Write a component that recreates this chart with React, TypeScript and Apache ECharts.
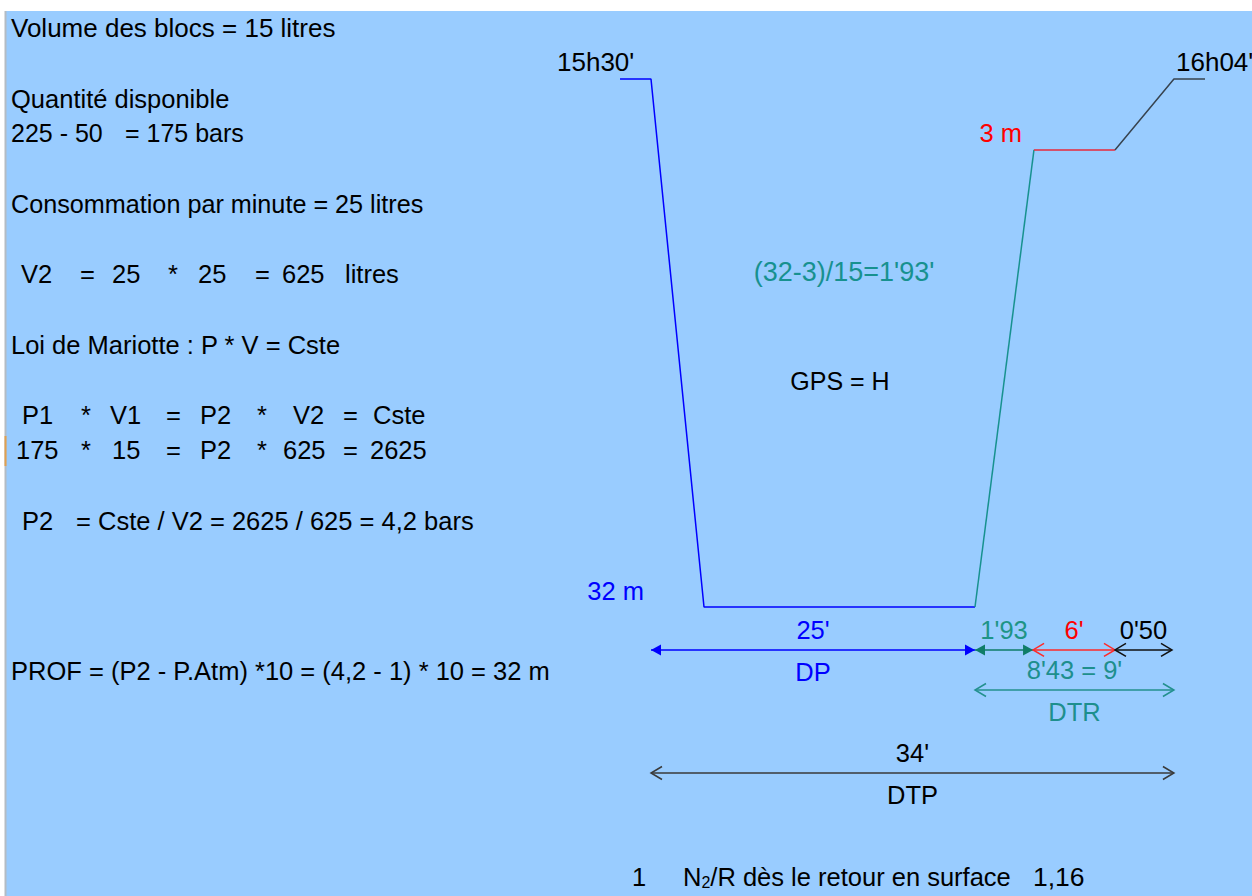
import React, { useEffect, useRef } from "react";
import * as echarts from "echarts";

// Dive profile (schematic minutes from start of descent, depth in metres as drawn)
const profileTime = [-2.39, 0, 4.09, 25, 29.55, 35.8, 40.35, 42.75];
const profileDepth = [0, 0, 32, 32, 4.3, 4.3, 0, 0];

// Duration arrows
const arrowFrom = [0, 25, 29.48, 35.8, 25, 0];
const arrowTo = [25, 29.48, 35.8, 40.2, 40.35, 40.35];
const arrowLevel = [34.6, 34.6, 34.6, 34.6, 37.03, 42.06];
const arrowTopLabels = ["25'", "1'93", "6'", "0'50", "8'43 = 9'", "34'"];
const arrowBottomLabels = ["DP", "", "", "", "DTR", "DTP"];
const arrowFilled = [true, true, false, false, false, false];

// Texts
const leftLines = [
  "Volume des blocs = 15 litres",
  "Quantité disponible",
  "Consommation par minute = 25 litres",
  "Loi de Mariotte : P * V = Cste",
  "PROF = (P2 - P.Atm) *10 = (4,2 - 1) * 10 = 32 m",
];
const rowQty = ["225 - 50", "= 175 bars"];
const rowV2 = ["V2", "=", "25", "*", "25", "=", "625", "litres"];
const rowP1 = ["P1", "*", "V1", "=", "P2", "*", "V2", "=", "Cste"];
const rowNum = ["175", "*", "15", "=", "P2", "*", "625", "=", "2625"];
const rowP2 = ["P2", "= Cste / V2 = 2625 / 625 = 4,2 bars"];
const timeLabels = ["15h30'", "16h04'"];
const depthLabels = ["32 m", "3 m"];
const ascentFormula = "(32-3)/15=1'93'";
const gpsLabel = "GPS = H";
const bottomLine = ["1", "N", "2", "/R dès le retour en surface", "1,16"];

const FONT = "Liberation Sans, Arial, sans-serif";
const FS = 25.5;

const BLUE = "#0000FF";
const TEAL = "#17918F";
const RED = "#FF0000";
const DARK = "#37434F";

const arrowColors = [BLUE, "#0F7D68", "#FF2A2A", "#111111", "#23908E", "#3A3A3A"];
const arrowTextColors = [BLUE, "#1E9486", RED, "#000000", "#1E8F8D", "#000000"];

function txt(text: string, x: number, y: number, fill = "#000", align = "left", fs = FS) {
  return {
    type: "text",
    x,
    y,
    z: 10,
    style: {
      text,
      fill,
      fontSize: fs,
      fontFamily: FONT,
      align,
      verticalAlign: "middle",
      textAlign: align,
      textVerticalAlign: "middle",
    },
  };
}

export default function App() {
  const ref = useRef<HTMLDivElement>(null);

  useEffect(() => {
    if (!ref.current) return;
    const chart = echarts.init(ref.current, undefined, { renderer: "svg" });

    const seg = (a: number, b: number) => {
      const d: number[][] = [];
      for (let i = a; i <= b; i++) d.push([profileTime[i], profileDepth[i]]);
      return d;
    };

    const lineSeries = (data: number[][], color: string) => ({
      type: "line",
      data,
      showSymbol: false,
      symbol: "none",
      clip: false,
      silent: true,
      lineStyle: { color, width: 1.5 },
      z: 5,
    });

    const arrowData = arrowFrom.map((f, i) => [f, arrowTo[i], arrowLevel[i]]);

    const v2x = [21, 80, 112, 168, 198, 255, 282, 345];
    const p1x = [22, 81, 110, 166, 200, 257, 293, 343, 373];
    const numx = [16, 81, 112, 166, 200, 257, 283, 343, 370];

    const graphic: any[] = [
      {
        type: "rect",
        shape: { x: 6, y: 11, width: 1246, height: 885 },
        style: { fill: "#99CCFF" },
        z: -10,
      },
      {
        type: "line",
        shape: { x1: 5.5, y1: 11, x2: 5.5, y2: 896 },
        style: { stroke: "#B4BCC4", lineWidth: 2 },
        z: -9,
      },
      {
        type: "line",
        shape: { x1: 5.5, y1: 436, x2: 5.5, y2: 466 },
        style: { stroke: "#E0A050", lineWidth: 2 },
        z: -8,
      },
      txt(leftLines[0], 11, 28, "#000", "left", 26),
      txt(leftLines[1], 11, 99),
      txt(rowQty[0], 11, 133, "#000", "left", 25),
      txt(rowQty[1], 125, 133, "#000", "left", 25),
      txt(leftLines[2], 11, 204, "#000", "left", 25.2),
      ...rowV2.map((t, i) => txt(t, v2x[i], 274)),
      txt(leftLines[3], 11, 345),
      ...rowP1.map((t, i) => txt(t, p1x[i], 415)),
      ...rowNum.map((t, i) => txt(t, numx[i], 450)),
      txt(rowP2[0], 22, 521),
      txt(rowP2[1], 76, 521),
      txt(leftLines[4], 11, 671),
      txt(timeLabels[0], 557, 62, "#000", "left", 26),
      txt(timeLabels[1], 1176, 62, "#000", "left", 26),
      txt(depthLabels[0], 644, 591, BLUE, "right"),
      txt(depthLabels[1], 1022, 133, RED, "right"),
      txt(ascentFormula, 844, 272, TEAL, "center", 27),
      txt(gpsLabel, 840, 381, "#000", "center", 25),
      txt(bottomLine[0], 632, 877),
      {
        type: "text",
        x: 683,
        y: 877,
        z: 10,
        style: {
          text: `{n|${bottomLine[1]}}{s|${bottomLine[2]}}{n|${bottomLine[3]}}`,
          fill: "#000",
          fontSize: FS,
          fontFamily: FONT,
          verticalAlign: "middle",
          textVerticalAlign: "middle",
          rich: {
            n: { fontSize: FS, fontFamily: FONT, fill: "#000", verticalAlign: "bottom" },
            s: { fontSize: 16, fontFamily: FONT, fill: "#000", verticalAlign: "bottom" },
          },
        },
      },
      txt(bottomLine[4], 1033, 877, "#000", "left", 26.5),
    ];

    chart.setOption({
      animation: false,
      backgroundColor: "#FFFFFF",
      grid: { left: 599.16, top: 79, width: 622.08, height: 726, show: false },
      xAxis: { type: "value", min: -4, max: 44, show: false },
      yAxis: { type: "value", min: 0, max: 44, inverse: true, show: false },
      graphic,
      series: [
        lineSeries(seg(0, 3), BLUE),
        lineSeries(seg(3, 4), TEAL),
        lineSeries(seg(4, 5), "#E8283A"),
        lineSeries(seg(5, 7), DARK),
        {
          type: "custom",
          coordinateSystem: "cartesian2d",
          clip: false,
          silent: true,
          z: 6,
          data: arrowData,
          renderItem: (params: any, api: any) => {
            const i = params.dataIndex;
            const a = api.coord([api.value(0), api.value(2)]);
            const b = api.coord([api.value(1), api.value(2)]);
            const y = a[1];
            const col = arrowColors[i];
            const tcol = arrowTextColors[i];
            const children: any[] = [
              {
                type: "line",
                shape: { x1: a[0], y1: y, x2: b[0], y2: y },
                style: { stroke: col, lineWidth: 1.5 },
              },
            ];
            if (arrowFilled[i]) {
              children.push({
                type: "polygon",
                shape: { points: [[a[0], y], [a[0] + 10, y - 5.5], [a[0] + 10, y + 5.5]] },
                style: { fill: col },
              });
              children.push({
                type: "polygon",
                shape: { points: [[b[0], y], [b[0] - 10, y - 5.5], [b[0] - 10, y + 5.5]] },
                style: { fill: col },
              });
            } else {
              children.push({
                type: "polyline",
                shape: { points: [[a[0] + 11, y - 6.5], [a[0], y], [a[0] + 11, y + 6.5]] },
                style: { stroke: col, lineWidth: 1.5, fill: "none" },
              });
              children.push({
                type: "polyline",
                shape: { points: [[b[0] - 11, y - 6.5], [b[0], y], [b[0] - 11, y + 6.5]] },
                style: { stroke: col, lineWidth: 1.5, fill: "none" },
              });
            }
            const mx = (a[0] + b[0]) / 2;
            children.push({
              type: "text",
              x: mx,
              y: y - 20,
              style: {
                text: arrowTopLabels[i],
                fill: tcol,
                fontSize: FS,
                fontFamily: FONT,
                align: "center",
                verticalAlign: "middle",
              },
            });
            if (arrowBottomLabels[i]) {
              children.push({
                type: "text",
                x: mx,
                y: y + 22,
                style: {
                  text: arrowBottomLabels[i],
                  fill: tcol,
                  fontSize: FS,
                  fontFamily: FONT,
                  align: "center",
                  verticalAlign: "middle",
                },
              });
            }
            return { type: "group", children };
          },
        },
      ],
    });

    return () => chart.dispose();
  }, []);

  return (
    <div
      ref={ref}
      style={{ position: "fixed", left: 0, top: 0, width: 1252, height: 896, background: "#fff" }}
    />
  );
}
